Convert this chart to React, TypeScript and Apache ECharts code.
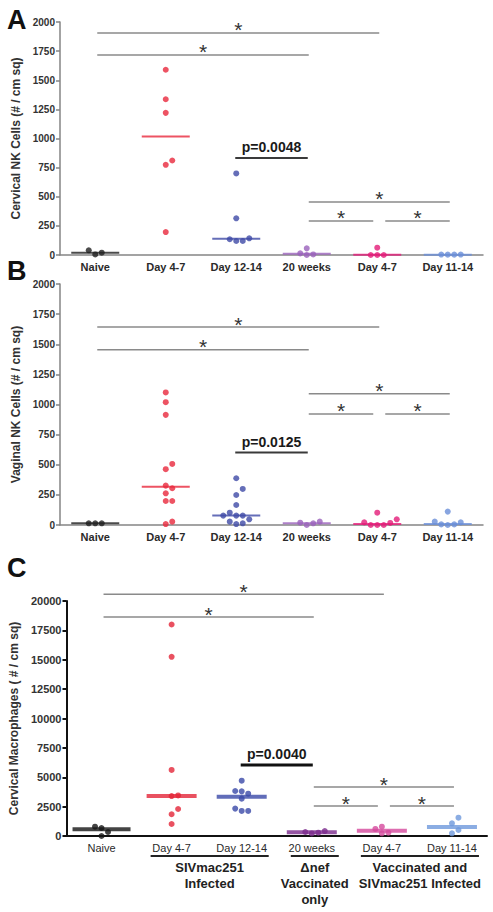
import React, { useEffect, useRef } from "react";
import * as echarts from "echarts";

const categories = ["Naive", "Day 4-7", "Day 12-14", "20 weeks", "Day 4-7", "Day 11-14"];

// Panel A – Cervical NK cells
const cnkNaive = [40, 5, 20];
const cnkInfD47 = [1590, 1337, 1220, 811, 774, 197];
const cnkInfD1214 = [700, 315, 143, 135, 120, 120];
const cnkVac20w = [57, 14, 5, 0];
const cnkVacInfD47 = [63, 0, 0, 0];
const cnkVacInfD1114 = [4, 3, 3, 4];
const cnkMedians = [20, 1017, 140, 10, 3, 3];
const cnkSig = [[0, 4, 1906], [0, 3, 1717], [3, 5, 455], [3, 4, 292], [4, 5, 292]]; // [fromCat, toCat, level]
const cnkP = { from: 2, to: 3, level: 833, text: "p=0.0048" };

// Panel B – Vaginal NK cells
const vnkNaive = [14, 14, 14];
const vnkInfD47 = [1100, 1019, 914, 507, 463, 327, 305, 263, 199, 199, 28, 8];
const vnkInfD1214 = [388, 299, 249, 166, 102, 78, 78, 78, 47, 28, 14, 8];
const vnkVac20w = [28, 19, 14, 0];
const vnkVacInfD47 = [102, 47, 22, 17, 0, 0, 0];
const vnkVacInfD1114 = [111, 28, 22, 5, 5, 0];
const vnkMedians = [14, 318, 78, 14, 8, 8];
const vnkSig = [[0, 4, 1643], [0, 3, 1454], [3, 5, 1089], [3, 4, 922], [4, 5, 922]];
const vnkP = { from: 2, to: 3, level: 601, text: "p=0.0125" };

// Panel C – Cervical macrophages
const macNaive = [790, 680, 340, 0];
const macInfD47 = [18000, 15250, 5620, 3450, 3400, 2300, 1850, 1020];
const macInfD1214 = [4710, 3830, 3800, 3600, 3180, 2330, 2130, 2130];
const macVac20w = [420, 340, 280, 220];
const macVacInfD47 = [790, 600, 280, 230];
const macVacInfD1114 = [1560, 1080, 510, 230];
const macMedians = [570, 3400, 3350, 310, 450, 770];
const macSig = [[0, 4, 20570], [0, 3, 18638], [3, 5, 4170], [3, 4, 2553], [4, 5, 2553]];
const macP = { from: 2, to: 3, level: 6043, text: "p=0.0040" };

const groupSpans = [[1, 2], [3, 3], [4, 5]];
const groupLabels = [
  ["SIVmac251", "Infected"],
  ["\u0394nef", "Vaccinated", "only"],
  ["Vaccinated and", "SIVmac251 Infected"],
];

const FONT = "'Liberation Sans', Arial, Helvetica, sans-serif";
const colorsAB = ["#1e1e1e", "#e8283c", "#3e4aa6", "#9a62bc", "#e31b78", "#6a8fd8"];
const colorsC = ["#151515", "#e42638", "#3a48a8", "#7b2a8c", "#d4489c", "#6e98dc"];

function swarm(values: number[], pxPerUnit: number, diam = 6.2, step = 6.5) {
  const order = values.map((_, i) => i).sort((a, b) => values[a] - values[b]);
  const placed: { y: number; s: number }[] = [];
  const slots = new Array(values.length).fill(0);
  const prefs = [0, 1, -1, 2, -2, 3, -3, 4, -4, 5, -5];
  for (const i of order) {
    const y = values[i] * pxPerUnit;
    for (const s of prefs) {
      const clash = placed.some((p) => Math.hypot((p.s - s) * step, p.y - y) < diam);
      if (!clash) {
        placed.push({ y, s });
        slots[i] = s;
        break;
      }
    }
  }
  return slots.map((s) => s * step);
}

const panels = [
  {
    top: 22, height: 233, width: 423, max: 20 * 100, interval: 250,
    title: "Cervical NK Cells (# / cm sq)", nameGap: 35,
    groups: [cnkNaive, cnkInfD47, cnkInfD1214, cnkVac20w, cnkVacInfD47, cnkVacInfD1114],
    medians: cnkMedians, sig: cnkSig, p: cnkP, colors: colorsAB, heavy: false,
    letter: "A", letterTop: 6,
  },
  {
    top: 284, height: 241, width: 423, max: 2000, interval: 250,
    title: "Vaginal NK Cells (# / cm sq)", nameGap: 35,
    groups: [vnkNaive, vnkInfD47, vnkInfD1214, vnkVac20w, vnkVacInfD47, vnkVacInfD1114],
    medians: vnkMedians, sig: vnkSig, p: vnkP, colors: colorsAB, heavy: false,
    letter: "B", letterTop: 257,
  },
  {
    top: 601, height: 235, width: 427, max: 20000, interval: 2500,
    title: "Cervical Macrophages ( # / cm sq)", nameGap: 38,
    groups: [macNaive, macInfD47, macInfD1214, macVac20w, macVacInfD47, macVacInfD1114],
    medians: macMedians, sig: macSig, p: macP, colors: colorsC, heavy: true,
    letter: "C", letterTop: 554,
  },
];

function txt(text: string, x: number, y: number, font: string, fill = "#222") {
  return {
    type: "text",
    x, y,
    style: {
      text, fill, font,
      align: "center", verticalAlign: "middle",
      textAlign: "center", textVerticalAlign: "middle",
    },
  };
}

function buildOption() {
  const grid: any[] = [];
  const xAxis: any[] = [];
  const yAxis: any[] = [];
  const series: any[] = [];
  const graphic: any[] = [];

  panels.forEach((pd, k) => {
    const axisColor = pd.heavy ? "#111" : "#858585";
    const axisWidth = pd.heavy ? 2 : 1.5;
    grid.push({ left: 60, top: pd.top, width: pd.width, height: pd.height, containLabel: false });
    xAxis.push({
      type: "category", gridIndex: k, data: categories, boundaryGap: true,
      axisLine: { lineStyle: { color: axisColor, width: axisWidth } },
      axisTick: { alignWithLabel: true, length: 4, lineStyle: { color: axisColor, width: axisWidth } },
      axisLabel: {
        interval: 0, margin: 6, color: "#2a2a2a", fontFamily: FONT, fontSize: 11,
        fontWeight: pd.heavy ? "normal" : "bold",
      },
      splitLine: { show: false },
    });
    yAxis.push({
      type: "value", gridIndex: k, min: 0, max: pd.max, interval: pd.interval,
      name: pd.title, nameLocation: "middle", nameGap: pd.nameGap,
      nameTextStyle: { fontFamily: FONT, fontSize: 12, fontWeight: "bold", color: "#333" },
      axisLine: { show: true, lineStyle: { color: axisColor, width: axisWidth } },
      axisTick: { show: true, length: 4, lineStyle: { color: axisColor, width: axisWidth } },
      axisLabel: {
        margin: 5, color: "#333", fontFamily: FONT, fontSize: pd.heavy ? 11 : 10, fontWeight: "bold",
        formatter: (v: number) => String(v),
      },
      splitLine: { show: false },
    });

    const pxPerUnit = pd.height / pd.max;

    // medians
    series.push({
      type: "scatter", xAxisIndex: k, yAxisIndex: k, z: 2, silent: true,
      symbol: "rect",
      data: pd.medians.map((m, i) => ({
        value: [i, m],
        symbolSize: [pd.heavy ? (i === 0 ? 58 : 50) : 48, pd.heavy ? 4 : 2],
        itemStyle: { color: pd.colors[i] },
      })),
    });

    // points
    const pts: any[] = [];
    pd.groups.forEach((vals, i) => {
      const offs = swarm(vals, pxPerUnit);
      vals.forEach((v, j) => {
        pts.push({ value: [i, v], symbolOffset: [offs[j], 0], itemStyle: { color: pd.colors[i] } });
      });
    });
    series.push({
      type: "scatter", xAxisIndex: k, yAxisIndex: k, z: 3, silent: true,
      symbol: "circle", symbolSize: 6, data: pts,
    });

    // significance bars
    const sig = pd.sig;
    series.push({
      type: "custom", xAxisIndex: k, yAxisIndex: k, clip: false, silent: true, z: 4,
      data: sig.map((s) => [s[0], s[2], s[1]]),
      renderItem: (params: any, api: any) => {
        const s = sig[params.dataIndex];
        const a = api.coord([s[0], s[2]]);
        const b = api.coord([s[1], s[2]]);
        let x1 = a[0] + 2;
        let x2 = b[0] + 2;
        const leftAdj = sig.some((o) => o !== s && o[2] === s[2] && o[0] === s[1]);
        const rightAdj = sig.some((o) => o !== s && o[2] === s[2] && o[1] === s[0]);
        if (leftAdj) x2 -= 6;
        if (rightAdj) x1 += 6;
        const y = a[1];
        return {
          type: "group",
          children: [
            { type: "line", shape: { x1, y1: y, x2, y2: y }, style: { stroke: "#8a8a8a", lineWidth: 1.5 } },
            txt("*", (x1 + x2) / 2, y - 3, `normal 21px ${FONT}`, "#333"),
          ],
        };
      },
    });

    // p-value bar
    const p = pd.p;
    series.push({
      type: "custom", xAxisIndex: k, yAxisIndex: k, clip: false, silent: true, z: 4,
      data: [[p.from, p.level, p.to]],
      renderItem: (params: any, api: any) => {
        const a = api.coord([p.from, p.level]);
        const b = api.coord([p.to, p.level]);
        const x1 = a[0] - 1;
        const x2 = b[0] + 1;
        const y = a[1];
        return {
          type: "group",
          children: [
            {
              type: "line", shape: { x1, y1: y, x2, y2: y },
              style: { stroke: pd.heavy ? "#111" : "#3a3a3a", lineWidth: pd.heavy ? 3 : 2 },
            },
            txt(p.text, (x1 + x2) / 2, y - 11, `bold 14px ${FONT}`, "#1a1a1a"),
          ],
        };
      },
    });

    // group labels below panel C
    if (pd.heavy) {
      series.push({
        type: "custom", xAxisIndex: k, yAxisIndex: k, clip: false, silent: true, z: 4,
        data: groupSpans.map((g) => [g[0], 0, g[1]]),
        renderItem: (params: any, api: any) => {
          const g = groupSpans[params.dataIndex];
          const a = api.coord([g[0], 0]);
          const b = api.coord([g[1], 0]);
          const x1 = a[0] - 21;
          const x2 = b[0] + 27;
          const y0 = a[1];
          const cx = (x1 + x2) / 2;
          const children: any[] = [
            { type: "line", shape: { x1, y1: y0 + 20, x2, y2: y0 + 20 }, style: { stroke: "#222", lineWidth: 2 } },
          ];
          groupLabels[params.dataIndex].forEach((line, li) => {
            children.push(txt(line, cx, y0 + 31 + li * 16, `bold 13px ${FONT}`, "#222"));
          });
          return { type: "group", children };
        },
      });
    }

    graphic.push({
      type: "text", left: 7, top: pd.letterTop,
      style: { text: pd.letter, font: `bold 27px ${FONT}`, fill: "#111" },
    });
  });

  return {
    animation: false,
    backgroundColor: "#ffffff",
    textStyle: { fontFamily: FONT },
    grid, xAxis, yAxis, series, graphic,
  };
}

export default function App() {
  const ref = useRef<HTMLDivElement>(null);
  useEffect(() => {
    if (!ref.current) return;
    const chart = echarts.init(ref.current, undefined, { renderer: "svg" });
    chart.setOption(buildOption() as any);
    return () => chart.dispose();
  }, []);
  return (
    <div
      ref={ref}
      style={{ position: "absolute", left: 0, top: 0, width: 493, height: 912, background: "#fff" }}
    />
  );
}
